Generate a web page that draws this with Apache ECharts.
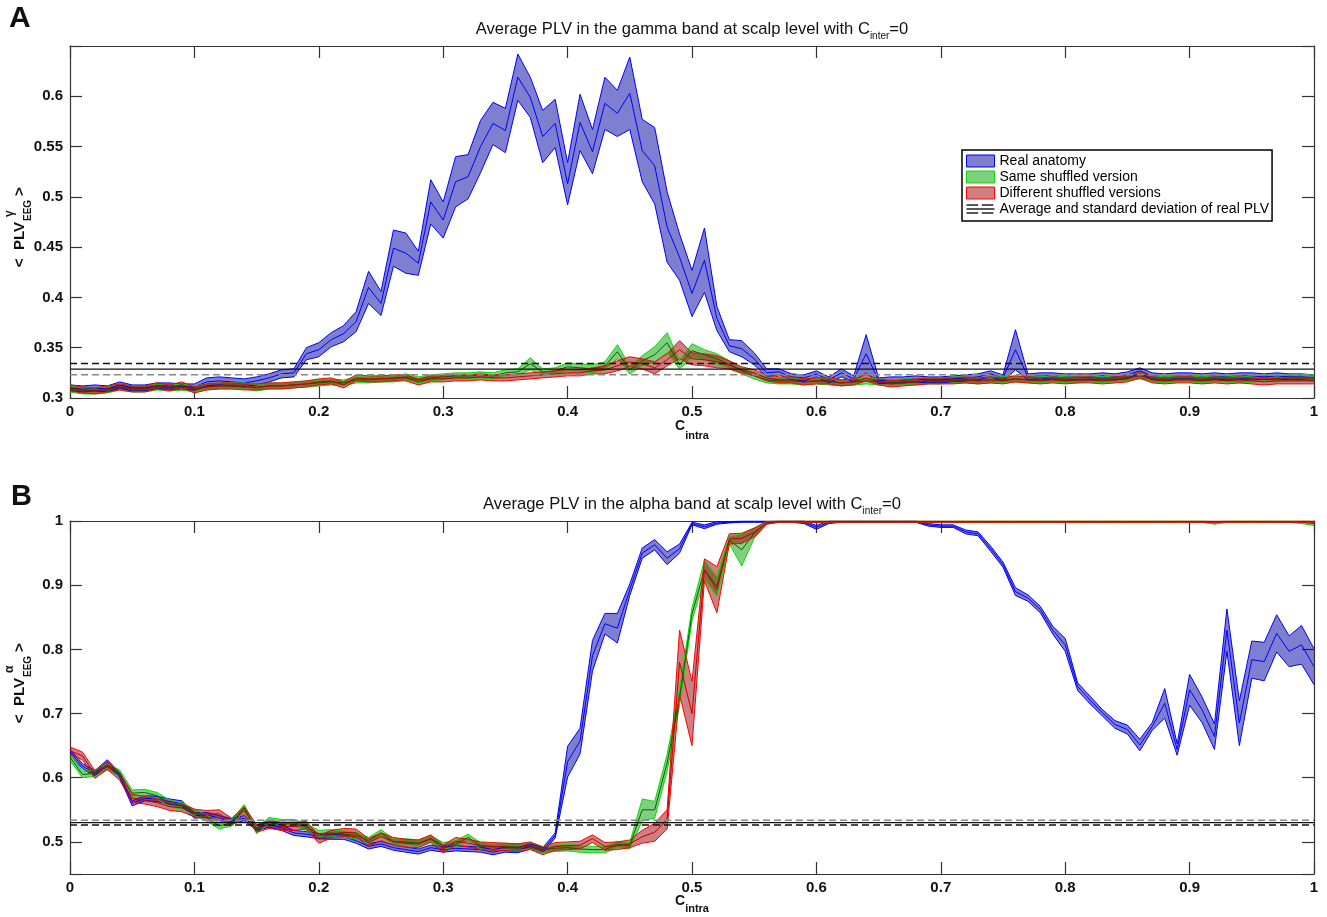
<!DOCTYPE html>
<html>
<head>
<meta charset="utf-8" />
<title>Average PLV at scalp level</title>
<script src="https://cdn.jsdelivr.net/npm/echarts@6/dist/echarts.min.js"></script>
<style>
  html, body { margin: 0; padding: 0; background: #fff; }
  #chart { width: 1327px; height: 917px; }
</style>
</head>
<body>
<div id="chart"></div>
<script>
// C_intra sampling grid: 0 to 1 in steps of 0.01
var cIntra = [];
for (var i = 0; i <= 100; i++) cIntra.push(+(i / 100).toFixed(2));

// ---- panel A : gamma band (mean and half-width of each band) ----
var gammaBlueMean = [
  0.310,0.309,0.310,0.309,0.313,0.310,0.310,0.312,0.312,0.311,
  0.311,0.316,0.317,0.316,0.315,0.317,0.320,0.324,0.325,0.344,
  0.348,0.358,0.364,0.376,0.410,0.394,0.449,0.444,0.434,0.495,
  0.477,0.515,0.520,0.550,0.573,0.566,0.619,0.599,0.560,0.573,
  0.513,0.574,0.545,0.593,0.583,0.603,0.546,0.531,0.470,0.440,
  0.404,0.437,0.379,0.352,0.349,0.339,0.325,0.326,0.321,0.320,
  0.324,0.318,0.325,0.319,0.344,0.317,0.318,0.318,0.319,0.318,
  0.318,0.319,0.320,0.321,0.324,0.320,0.348,0.321,0.322,0.322,
  0.321,0.321,0.321,0.322,0.321,0.323,0.327,0.322,0.321,0.322,
  0.322,0.321,0.322,0.321,0.322,0.322,0.321,0.322,0.321,0.321,
  0.320];
var gammaBlueSd = [
  0.003,0.003,0.003,0.003,0.003,0.003,0.003,0.003,0.003,0.003,
  0.003,0.004,0.004,0.004,0.004,0.004,0.004,0.004,0.004,0.006,
  0.007,0.007,0.008,0.010,0.016,0.012,0.018,0.020,0.012,0.022,
  0.018,0.025,0.022,0.026,0.021,0.022,0.023,0.020,0.026,0.024,
  0.021,0.028,0.022,0.026,0.023,0.036,0.031,0.038,0.035,0.023,
  0.023,0.032,0.012,0.006,0.008,0.006,0.004,0.003,0.003,0.003,
  0.003,0.003,0.004,0.003,0.019,0.003,0.003,0.003,0.003,0.003,
  0.003,0.003,0.003,0.003,0.003,0.003,0.020,0.003,0.003,0.003,
  0.003,0.003,0.003,0.003,0.003,0.003,0.003,0.003,0.003,0.003,
  0.003,0.003,0.003,0.003,0.003,0.003,0.003,0.003,0.003,0.003,
  0.003];
var gammaGreenMean = [
  0.309,0.307,0.307,0.308,0.311,0.309,0.309,0.311,0.310,0.311,
  0.309,0.311,0.312,0.312,0.312,0.310,0.312,0.312,0.313,0.314,
  0.315,0.316,0.315,0.318,0.318,0.319,0.319,0.321,0.318,0.320,
  0.321,0.322,0.322,0.323,0.322,0.325,0.326,0.334,0.326,0.327,
  0.331,0.330,0.329,0.332,0.346,0.328,0.337,0.343,0.355,0.333,
  0.347,0.343,0.339,0.333,0.327,0.322,0.318,0.317,0.317,0.316,
  0.317,0.316,0.315,0.316,0.317,0.316,0.315,0.316,0.316,0.317,
  0.317,0.318,0.318,0.317,0.318,0.318,0.319,0.318,0.318,0.319,
  0.318,0.318,0.319,0.318,0.319,0.320,0.322,0.319,0.318,0.319,
  0.319,0.318,0.319,0.319,0.318,0.319,0.320,0.319,0.320,0.320,
  0.320];
var gammaGreenSd = [
  0.003,0.003,0.003,0.003,0.003,0.003,0.003,0.003,0.003,0.003,
  0.003,0.003,0.003,0.003,0.003,0.003,0.003,0.003,0.003,0.003,
  0.003,0.003,0.003,0.003,0.003,0.003,0.003,0.003,0.003,0.003,
  0.003,0.003,0.003,0.003,0.003,0.003,0.003,0.006,0.003,0.003,
  0.004,0.004,0.004,0.004,0.007,0.004,0.005,0.008,0.010,0.004,
  0.007,0.005,0.005,0.004,0.003,0.003,0.003,0.003,0.003,0.003,
  0.003,0.003,0.003,0.003,0.003,0.003,0.003,0.003,0.003,0.003,
  0.003,0.003,0.003,0.003,0.003,0.003,0.003,0.003,0.003,0.003,
  0.003,0.003,0.003,0.003,0.003,0.003,0.003,0.003,0.003,0.003,
  0.003,0.003,0.003,0.003,0.003,0.003,0.003,0.003,0.003,0.003,
  0.003];
var gammaRedMean = [
  0.310,0.308,0.307,0.309,0.311,0.309,0.309,0.312,0.310,0.313,
  0.308,0.311,0.312,0.312,0.311,0.311,0.312,0.312,0.313,0.314,
  0.316,0.317,0.313,0.320,0.319,0.319,0.320,0.320,0.316,0.319,
  0.319,0.320,0.320,0.321,0.320,0.320,0.321,0.322,0.323,0.324,
  0.325,0.325,0.327,0.328,0.332,0.336,0.334,0.330,0.338,0.348,
  0.339,0.338,0.336,0.333,0.328,0.325,0.320,0.318,0.318,0.316,
  0.317,0.317,0.315,0.316,0.320,0.316,0.314,0.315,0.316,0.317,
  0.317,0.317,0.318,0.317,0.318,0.317,0.319,0.318,0.317,0.318,
  0.317,0.318,0.318,0.317,0.318,0.319,0.323,0.318,0.317,0.318,
  0.318,0.317,0.318,0.317,0.318,0.317,0.316,0.317,0.317,0.317,
  0.317];
var gammaRedSd = [
  0.003,0.003,0.003,0.003,0.003,0.003,0.003,0.003,0.003,0.003,
  0.003,0.003,0.003,0.003,0.003,0.003,0.003,0.003,0.003,0.003,
  0.003,0.003,0.003,0.003,0.003,0.003,0.003,0.003,0.003,0.003,
  0.003,0.003,0.003,0.003,0.003,0.003,0.003,0.003,0.003,0.003,
  0.003,0.003,0.003,0.004,0.005,0.005,0.005,0.006,0.006,0.009,
  0.006,0.006,0.006,0.004,0.003,0.003,0.003,0.003,0.003,0.003,
  0.003,0.003,0.003,0.003,0.003,0.003,0.003,0.003,0.003,0.003,
  0.003,0.003,0.003,0.003,0.003,0.003,0.003,0.003,0.003,0.003,
  0.003,0.003,0.003,0.003,0.003,0.003,0.003,0.003,0.003,0.003,
  0.003,0.003,0.003,0.003,0.003,0.003,0.003,0.003,0.003,0.003,
  0.003];

// ---- panel B : alpha band ----
var alphaBlueMean = [
  0.640,0.618,0.607,0.624,0.604,0.560,0.568,0.567,0.563,0.560,
  0.541,0.542,0.537,0.532,0.537,0.522,0.527,0.522,0.514,0.512,
  0.509,0.508,0.508,0.502,0.493,0.497,0.491,0.488,0.485,0.491,
  0.488,0.490,0.489,0.488,0.484,0.488,0.487,0.493,0.487,0.510,
  0.625,0.657,0.790,0.840,0.833,0.893,0.950,0.963,0.942,0.957,
  0.996,0.991,0.997,0.998,0.999,0.999,0.999,0.999,0.999,0.998,
  0.990,0.998,0.999,0.999,0.999,0.999,0.999,0.999,0.999,0.994,
  0.992,0.992,0.983,0.980,0.957,0.932,0.890,0.880,0.862,0.830,
  0.807,0.742,0.721,0.701,0.683,0.675,0.651,0.680,0.716,0.644,
  0.737,0.706,0.664,0.830,0.685,0.784,0.781,0.825,0.797,0.807,
  0.773];
var alphaBlueSd = [
  0.004,0.004,0.004,0.004,0.004,0.004,0.004,0.004,0.004,0.004,
  0.004,0.004,0.004,0.004,0.004,0.004,0.004,0.004,0.004,0.004,
  0.004,0.004,0.004,0.004,0.004,0.004,0.004,0.004,0.004,0.004,
  0.004,0.004,0.004,0.004,0.004,0.004,0.004,0.004,0.004,0.004,
  0.024,0.020,0.024,0.016,0.023,0.009,0.008,0.008,0.010,0.007,
  0.002,0.003,0.002,0.001,0.001,0.001,0.001,0.001,0.001,0.002,
  0.003,0.002,0.001,0.001,0.001,0.001,0.001,0.001,0.001,0.002,
  0.002,0.002,0.003,0.003,0.004,0.004,0.006,0.005,0.005,0.006,
  0.010,0.006,0.006,0.005,0.006,0.007,0.009,0.006,0.023,0.009,
  0.024,0.020,0.020,0.033,0.035,0.029,0.030,0.029,0.024,0.030,
  0.028];
var alphaGreenMean = [
  0.632,0.605,0.607,0.617,0.607,0.576,0.577,0.572,0.560,0.556,
  0.546,0.537,0.525,0.530,0.553,0.518,0.533,0.530,0.530,0.523,
  0.513,0.514,0.512,0.510,0.502,0.514,0.500,0.500,0.498,0.505,
  0.494,0.497,0.507,0.494,0.492,0.493,0.492,0.494,0.488,0.490,
  0.491,0.489,0.488,0.488,0.496,0.494,0.550,0.550,0.623,0.725,
  0.855,0.924,0.898,0.970,0.955,0.981,0.997,0.999,0.999,0.999,
  0.999,0.999,0.999,0.999,0.999,0.999,0.999,0.999,0.999,0.999,
  0.999,0.999,0.999,0.999,0.999,0.999,0.999,0.999,0.999,0.999,
  0.999,0.999,0.999,0.999,0.999,0.999,0.999,0.999,0.999,0.999,
  0.999,0.999,0.997,0.999,0.999,0.999,0.999,0.999,0.999,0.998,
  0.996];
var alphaGreenSd = [
  0.005,0.005,0.005,0.005,0.005,0.005,0.005,0.005,0.005,0.005,
  0.005,0.005,0.005,0.005,0.005,0.005,0.005,0.005,0.005,0.005,
  0.005,0.005,0.005,0.005,0.005,0.005,0.005,0.005,0.005,0.005,
  0.005,0.005,0.005,0.005,0.005,0.005,0.005,0.005,0.005,0.005,
  0.005,0.005,0.005,0.005,0.005,0.005,0.017,0.013,0.013,0.012,
  0.010,0.015,0.015,0.006,0.025,0.008,0.002,0.001,0.001,0.001,
  0.001,0.001,0.001,0.001,0.001,0.001,0.001,0.001,0.001,0.001,
  0.001,0.001,0.001,0.001,0.001,0.001,0.001,0.001,0.001,0.001,
  0.001,0.001,0.001,0.001,0.001,0.001,0.001,0.001,0.001,0.001,
  0.001,0.001,0.002,0.001,0.001,0.001,0.001,0.001,0.001,0.002,
  0.003];
var alphaRedMean = [
  0.642,0.634,0.605,0.619,0.602,0.568,0.565,0.561,0.555,0.553,
  0.545,0.543,0.544,0.531,0.549,0.521,0.527,0.524,0.524,0.526,
  0.504,0.512,0.515,0.514,0.499,0.508,0.501,0.498,0.497,0.505,
  0.489,0.501,0.498,0.494,0.493,0.492,0.491,0.494,0.486,0.493,
  0.494,0.495,0.505,0.493,0.494,0.497,0.508,0.515,0.535,0.780,
  0.700,0.924,0.893,0.972,0.973,0.982,0.997,0.999,0.999,0.999,
  0.999,0.999,0.999,0.999,0.999,0.999,0.999,0.999,0.999,0.999,
  0.999,0.999,0.999,0.999,0.999,0.999,0.999,0.999,0.999,0.999,
  0.999,0.999,0.999,0.999,0.999,0.999,0.999,0.999,0.999,0.999,
  0.999,0.999,0.999,0.999,0.999,0.999,0.999,0.999,0.999,0.999,
  0.999];
var alphaRedSd = [
  0.006,0.006,0.006,0.006,0.006,0.006,0.006,0.006,0.006,0.006,
  0.006,0.006,0.006,0.006,0.006,0.006,0.006,0.006,0.006,0.006,
  0.006,0.006,0.006,0.006,0.006,0.006,0.006,0.006,0.006,0.006,
  0.006,0.006,0.006,0.006,0.006,0.006,0.006,0.006,0.006,0.006,
  0.006,0.006,0.006,0.006,0.006,0.006,0.010,0.014,0.015,0.050,
  0.050,0.017,0.036,0.008,0.008,0.007,0.002,0.001,0.001,0.001,
  0.001,0.001,0.001,0.001,0.001,0.001,0.001,0.001,0.001,0.001,
  0.001,0.001,0.001,0.001,0.001,0.001,0.001,0.001,0.001,0.001,
  0.001,0.001,0.001,0.001,0.001,0.001,0.001,0.001,0.001,0.001,
  0.001,0.001,0.001,0.001,0.001,0.001,0.001,0.001,0.001,0.001,
  0.001];

// average and standard deviation of the real PLV, [gamma, alpha]
var refMean = [0.3287, 0.5300];
var refSd = [0.0055, 0.0037];

var seriesNames = ['Real anatomy', 'Same shuffled version', 'Different shuffled versions'];
var refName = 'Average and standard deviation of real PLV';

var FONT = '"Liberation Sans", Arial, Helvetica, sans-serif';
var AXIS = '#333';
var cats = cIntra.map(function (v) { return String(v); });

var colors = [
  { edge: '#0000ff', fill: 'rgba(0,0,160,0.5)', mean: '#0000ff' },
  { edge: '#00e000', fill: 'rgba(0,160,0,0.5)', mean: '#006400' },
  { edge: '#ff0000', fill: 'rgba(160,0,0,0.5)', mean: '#c00000' }
];

// a band = lower line + stacked width (filled) + mean line
function band(g, k, mean, sd) {
  var col = colors[k];
  var lower = [], width = [];
  for (var i = 0; i < mean.length; i++) {
    lower.push(+(mean[i] - sd[i]).toFixed(4));
    width.push(+(2 * sd[i]).toFixed(4));
  }
  var base = { type: 'line', xAxisIndex: 2 * g, yAxisIndex: 2 * g, symbol: 'none',
    silent: true, animation: false };
  var stack = 'band' + g + '_' + k;
  return [
    Object.assign({}, base, { name: 'lo' + g + k, stack: stack, data: lower,
      lineStyle: { color: col.edge, width: 1 } }),
    Object.assign({}, base, { name: seriesNames[k], stack: stack, data: width,
      lineStyle: { color: col.edge, width: 1 },
      areaStyle: { color: col.fill, opacity: 1 }, itemStyle: { color: col.fill } }),
    Object.assign({}, base, { name: 'mean' + g + k, data: mean,
      lineStyle: { color: col.mean, width: 1 } })
  ];
}

function refLine(g, name, value, color, dashed) {
  return { type: 'line', name: name, xAxisIndex: 2 * g, yAxisIndex: 2 * g,
    symbol: 'none', silent: true, animation: false,
    data: [[cats[0], value], [cats[cats.length - 1], value]],
    lineStyle: { color: color, width: dashed ? 1.5 : 1.3, type: dashed ? [7, 4] : 'solid' } };
}

function xAxes(g) {
  var common = { gridIndex: g, type: 'category', data: cats, boundaryGap: false,
    axisLine: { onZero: false, lineStyle: { color: AXIS, width: 1.2 } },
    axisTick: { inside: true, length: 12, interval: 9, lineStyle: { color: AXIS, width: 1.2 } },
    splitLine: { show: false } };
  return [
    Object.assign({}, common, { position: 'bottom',
      axisLabel: { interval: 9, margin: 6, fontSize: 15, fontWeight: 'bold',
        fontFamily: FONT, color: '#111' } }),
    Object.assign({}, common, { position: 'top', axisLabel: { show: false } })
  ];
}

function yAxes(g, scale, fmt) {
  var common = Object.assign({ gridIndex: g, type: 'value',
    axisLine: { show: true, onZero: false, lineStyle: { color: AXIS, width: 1.2 } },
    axisTick: { show: true, inside: true, length: 12, lineStyle: { color: AXIS, width: 1.2 } },
    splitLine: { show: false } }, scale);
  return [
    Object.assign({}, common, { position: 'left',
      axisLabel: { margin: 7, fontSize: 15, fontWeight: 'bold', fontFamily: FONT,
        color: '#111', formatter: fmt } }),
    Object.assign({}, common, { position: 'right', axisLabel: { show: false } })
  ];
}

var series = []
  .concat(band(0, 0, gammaBlueMean, gammaBlueSd))
  .concat(band(0, 1, gammaGreenMean, gammaGreenSd))
  .concat(band(0, 2, gammaRedMean, gammaRedSd))
  .concat(band(1, 0, alphaBlueMean, alphaBlueSd))
  .concat(band(1, 1, alphaGreenMean, alphaGreenSd))
  .concat(band(1, 2, alphaRedMean, alphaRedSd));

series.push(refLine(0, 'refA_hi', refMean[0] + refSd[0], '#111', true));
series.push(refLine(0, refName, refMean[0], '#111', false));
series.push(refLine(0, 'refA_lo', refMean[0] - refSd[0], '#888', true));
series.push(refLine(1, 'refB_hi', refMean[1] + refSd[1], '#888', true));
series.push(refLine(1, 'refB_mid', refMean[1], '#111', false));
series.push(refLine(1, 'refB_lo', refMean[1] - refSd[1], '#111', true));

// rich styles for a main text with a subscript lowered by `offset` px
function subRich(weight, mainSize, subSize, offset) {
  return {
    m: { fontSize: mainSize, fontWeight: weight, fontFamily: FONT, fill: '#111',
      lineHeight: 2 * (offset + 5) },
    s: { fontSize: subSize, fontWeight: weight, fontFamily: FONT, fill: '#111',
      lineHeight: 10, verticalAlign: 'bottom' }
  };
}

function yLabel(cy, sup) {
  return { type: 'group', x: 20, y: cy, rotation: Math.PI / 2, silent: true, children: [
    { type: 'text', x: 4, y: 0, style: { text: '<  PLV', align: 'right', verticalAlign: 'middle',
      fontSize: 15, fontWeight: 'bold', fontFamily: FONT, fill: '#111' } },
    { type: 'text', x: 9, y: -10, style: { text: sup, align: 'left', verticalAlign: 'middle',
      fontSize: 12, fontWeight: 'bold', fontFamily: FONT, fill: '#111' } },
    { type: 'text', x: 5, y: 8, style: { text: 'EEG', align: 'left', verticalAlign: 'middle',
      fontSize: 10, fontWeight: 'bold', fontFamily: FONT, fill: '#111' } },
    { type: 'text', x: 30, y: 0, style: { text: '>', align: 'left', verticalAlign: 'middle',
      fontSize: 15, fontWeight: 'bold', fontFamily: FONT, fill: '#111' } }
  ] };
}

var chart = echarts.init(document.getElementById('chart'), null, { renderer: 'canvas' });
chart.setOption({
  backgroundColor: '#fff',
  animation: false,
  grid: [
    { left: 70, right: 13, top: 46, height: 352, outerBoundsMode: 'none' },
    { left: 70, right: 13, top: 521, height: 353, outerBoundsMode: 'none' }
  ],
  xAxis: xAxes(0).concat(xAxes(1)),
  yAxis: yAxes(0, { min: 0.3, max: 0.65, interval: 0.05 }, function (v) {
    return v > 0.62 ? '' : String(+v.toFixed(2));
  }).concat(yAxes(1, { min: 0.45, max: 1, splitNumber: 5 }, function (v) {
    return v < 0.47 ? '' : String(+v.toFixed(2));
  })),
  legend: {
    left: 962, top: 150, orient: 'vertical', selectedMode: false,
    itemWidth: 28, itemHeight: 12, itemGap: 2,
    padding: [4, 3, 5, 4], borderColor: '#000', borderWidth: 1.5, borderRadius: 0,
    backgroundColor: '#fff',
    textStyle: { fontSize: 14, fontFamily: FONT, color: '#000' },
    data: [
      { name: seriesNames[0], icon: 'rect', itemStyle: { color: colors[0].fill, borderColor: colors[0].edge, borderWidth: 1 } },
      { name: seriesNames[1], icon: 'rect', itemStyle: { color: colors[1].fill, borderColor: colors[1].edge, borderWidth: 1 } },
      { name: seriesNames[2], icon: 'rect', itemStyle: { color: colors[2].fill, borderColor: colors[2].edge, borderWidth: 1 } },
      { name: refName,
        icon: 'path://M0,0H10V1.3H0Z M13,0H23V1.3H13Z M0,3.4H24V4.6H0Z M0,6.7H10V8H0Z M13,6.7H23V8H13Z',
        itemStyle: { color: '#222', borderWidth: 0 } }
    ]
  },
  graphic: [
    { type: 'text', x: 9, y: 19, silent: true, style: { text: 'A', align: 'left', verticalAlign: 'middle',
      fontSize: 30, fontWeight: 'bold', fontFamily: FONT, fill: '#111' } },
    { type: 'text', x: 11, y: 497, silent: true, style: { text: 'B', align: 'left', verticalAlign: 'middle',
      fontSize: 29, fontWeight: 'bold', fontFamily: FONT, fill: '#111' } },
    { type: 'text', x: 692, y: 29, silent: true, style: {
      text: '{m|Average PLV in the gamma band at scalp level with C}{s|inter}{m|=0}',
      align: 'center', verticalAlign: 'middle', rich: subRich('normal', 16.6, 10, 7) } },
    { type: 'text', x: 692, y: 504, silent: true, style: {
      text: '{m|Average PLV in the alpha band at scalp level with C}{s|inter}{m|=0}',
      align: 'center', verticalAlign: 'middle', rich: subRich('normal', 16.6, 10, 7) } },
    { type: 'text', x: 692, y: 426.5, silent: true, style: {
      text: '{m|C}{s|intra}', align: 'center', verticalAlign: 'middle',
      rich: subRich('bold', 14, 11, 9.5) } },
    { type: 'text', x: 692, y: 901, silent: true, style: {
      text: '{m|C}{s|intra}', align: 'center', verticalAlign: 'middle',
      rich: subRich('bold', 14, 11, 8) } },
    yLabel(226, '\u03B3'),
    yLabel(682, '\u03B1')
  ],
  series: series
});
window.addEventListener('resize', function () { chart.resize(); });
</script>
</body>
</html>
